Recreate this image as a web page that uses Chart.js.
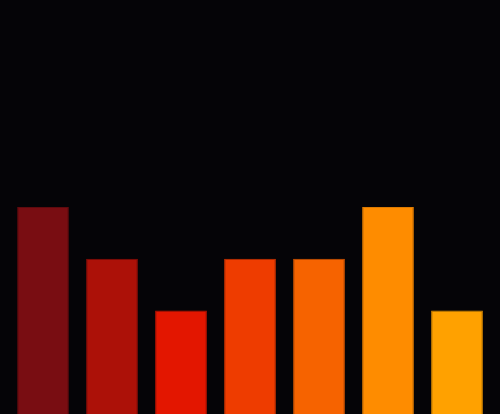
<!DOCTYPE html>
<html>
<head>
<meta charset="utf-8">
<script src="https://cdn.jsdelivr.net/npm/chart.js@4"></script>
<style>
	html, body { margin: 0; padding: 0; background: #050407; overflow: hidden; }
	#wrap { width: 500px; height: 414px; }
</style>
</head>
<body>
<div id="wrap"><canvas id="barChart" width="500" height="414"></canvas></div>
<script>
// Data
const categories = ["A", "B", "C", "D", "E", "F", "G"];
const values = [4, 3, 2, 3, 3, 4, 2];
const barColors = ["#790d12", "#ac1108", "#e31600", "#ee3c00", "#f66300", "#fe8c00", "#ffa100"];
const edgeColors = ["#5e0a0e", "#8c0e07", "#c01300", "#cc3300", "#d45500", "#dd7a00", "#dd8c00"];

const ctx = document.getElementById("barChart").getContext("2d");

new Chart(ctx, {
	type: "bar",
	data: {
		labels: categories,
		datasets: [
			{
				data: values,
				backgroundColor: barColors,
				borderColor: edgeColors,
				borderWidth: 1,
				barPercentage: 1,
				categoryPercentage: 0.75,
			},
		],
	},
	options: {
		responsive: false,
		animation: false,
		layout: { padding: { left: 8.5, right: 8.5, top: 0, bottom: 0 } },
		plugins: {
			legend: { display: false },
			tooltip: { enabled: false },
		},
		scales: {
			x: { display: false },
			y: { display: false, min: 0, max: 8 },
		},
	},
});
</script>
</body>
</html>
